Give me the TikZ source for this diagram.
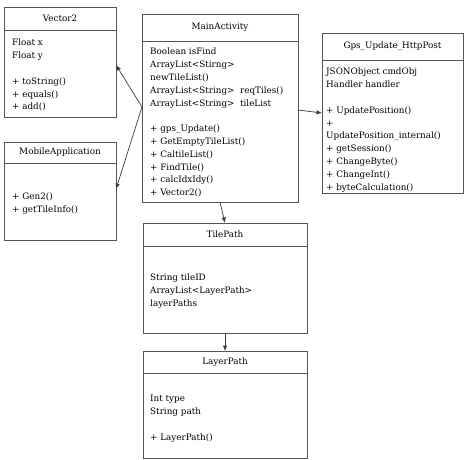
\documentclass[tikz,border=0pt]{standalone}
\usepackage{fontspec}
\setmainfont{DejaVu Serif}
\usetikzlibrary{arrows.meta}

\definecolor{boxgray}{RGB}{85,85,85}
\definecolor{linegray}{RGB}{60,60,60}

\begin{document}
\begin{tikzpicture}[x=1pt,y=-1pt,
    classhead/.style={draw=boxgray,line width=0.8pt,inner sep=0pt,outer sep=0pt,anchor=north west,
      font=\fontsize{8.8}{12.8}\selectfont},
    classbody/.style={draw=boxgray,line width=0.8pt,inner sep=0pt,outer sep=0pt,anchor=north west},
    members/.style={inner sep=0pt,align=left,anchor=north west,
      font=\fontsize{8.8}{12.8}\selectfont},
    uses/.style={draw=linegray,line width=0.7pt,-{Latex[length=5.5pt,width=4.5pt]}}]
    \useasboundingbox (0,0) rectangle (466,460);

    % Vector2
    \node[classhead,minimum width=112,minimum height=23] (vecH) at (4,7) {Vector2};
    \node[classbody,minimum width=112,minimum height=87] (vecB) at (vecH.south west) {};
    \node[members] (vecM) at ([shift={(8,9)}]vecB.north west)
      {Float x\\Float y\\[12.8pt]+ toString()\\+ equals()\\+ add()};

    % MobileApplication
    \node[classhead,minimum width=112,minimum height=21] (mobH) at (4,142) {MobileApplication};
    \node[classbody,minimum width=112,minimum height=77] (mobB) at (mobH.south west) {};
    \node[members] (mobM) at ([shift={(8,30)}]mobB.north west)
      {+ Gen2()\\+ getTileInfo()};

    % MainActivity
    \node[classhead,minimum width=156,minimum height=27] (mainH) at (142,14) {MainActivity};
    \node[classbody,minimum width=156,minimum height=161] (mainB) at (mainH.south west) {};
    \node[members] (mainM) at ([shift={(8,7)}]mainB.north west)
      {Boolean isFind\\ArrayList<Stirng>\\newTileList()\\
       ArrayList<String>~~reqTiles()\\ArrayList<String>~~tileList\\[12.8pt]
       + gps\_Update()\\+ GetEmptyTileList()\\+ CaltileList()\\+ FindTile()\\
       + calcIdxIdy()\\+ Vector2()};

    % Gps_Update_HttpPost
    \node[classhead,minimum width=141,minimum height=27] (gpsH) at (322,33) {Gps\_Update\_HttpPost};
    \node[classbody,minimum width=141,minimum height=133] (gpsB) at (gpsH.south west) {};
    \node[members] (gpsM) at ([shift={(4,8)}]gpsB.north west)
      {JSONObject cmdObj\\Handler handler\\[12.8pt]+ UpdatePosition()\\+\\
       UpdatePosition\_internal()\\+ getSession()\\+ ChangeByte()\\+ ChangeInt()\\
       + byteCalculation()};

    % TilePath
    \node[classhead,minimum width=164,minimum height=23] (tileH) at (143,223) {TilePath};
    \node[classbody,minimum width=164,minimum height=87] (tileB) at (tileH.south west) {};
    \node[members] (tileM) at ([shift={(7,28)}]tileB.north west)
      {String tileID\\ArrayList<LayerPath>\\layerPaths};

    % LayerPath
    \node[classhead,minimum width=164,minimum height=22] (layerH) at (143,351) {LayerPath};
    \node[classbody,minimum width=164,minimum height=85] (layerB) at (layerH.south west) {};
    \node[members] (layerM) at ([shift={(7,22)}]layerB.north west)
      {Int type\\String path\\[12.8pt]+ LayerPath()};

    % Associations
    \coordinate (fork) at ([yshift=14.5pt]mainB.west);
    \draw[uses] (fork) -- ([yshift=8.5pt]vecB.east);
    \draw[uses] (fork) -- ([yshift=12.5pt]mobB.east);
    \draw[uses] ([yshift=11.5pt]mainB.east) -- ([yshift=13.5pt]gpsB.west);
    \draw[uses] (mainB.south) -- (tileH.north);
    \draw[uses] (tileB.south) -- (layerH.north);
  \end{tikzpicture}
\end{document}
